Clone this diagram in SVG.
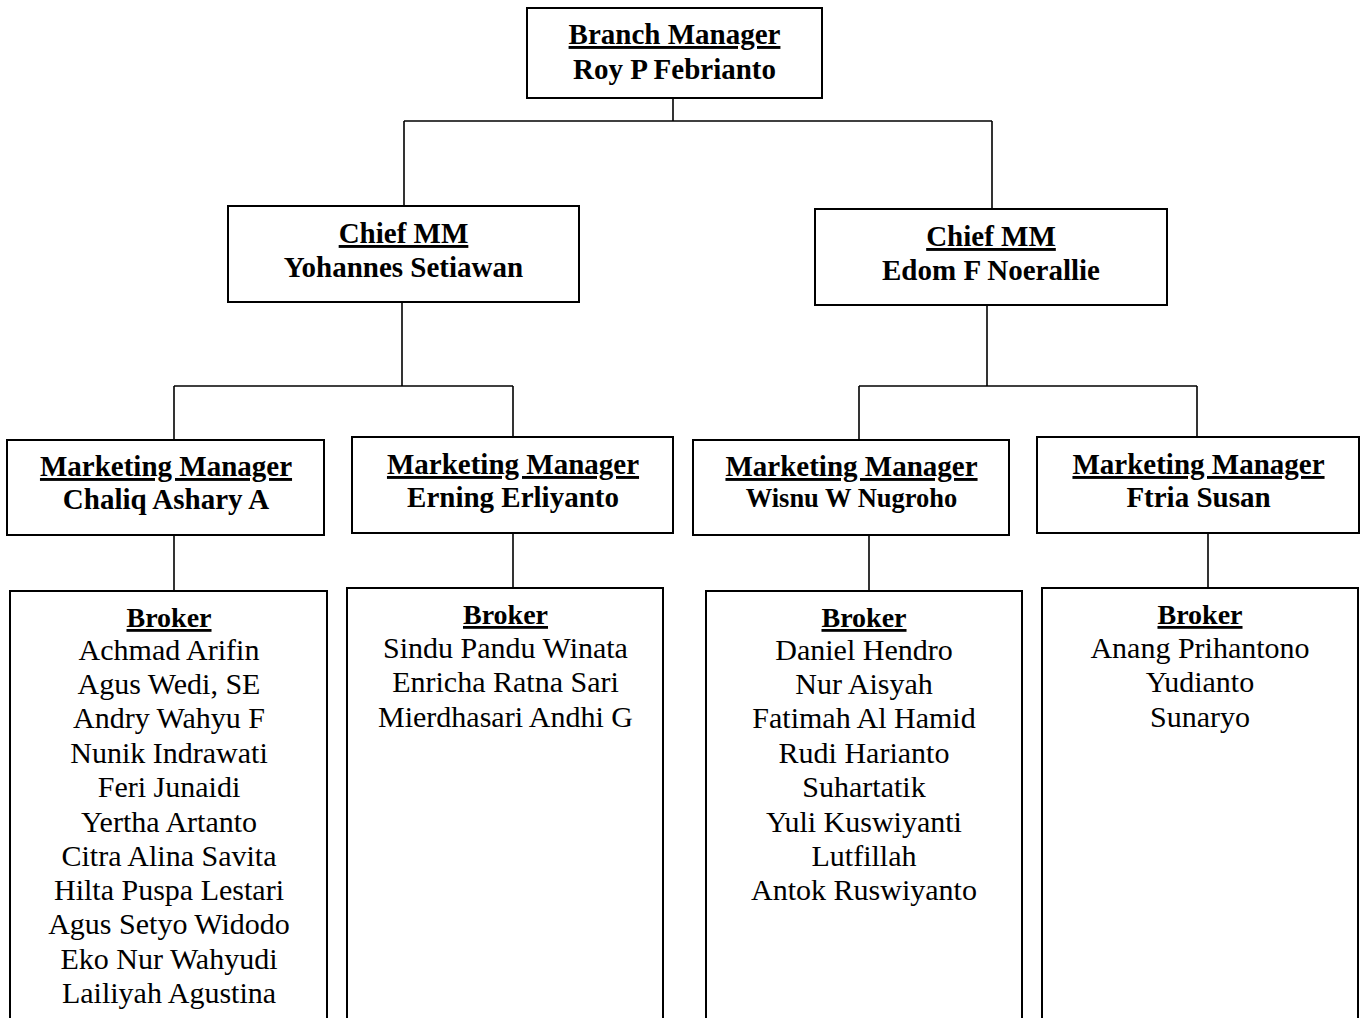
<svg xmlns="http://www.w3.org/2000/svg" width="1362" height="1018" viewBox="0 0 1362 1018">
<style>
.box{fill:#fff;stroke:#000;stroke-width:2}
.conn line{stroke:#000;stroke-width:1.6}
text{font-family:"Liberation Serif","Times New Roman",serif;fill:#000;text-anchor:middle}
.t{font-weight:bold;font-size:29px}
.u{text-decoration:underline}
.s{font-size:26.5px}
.bk{font-weight:bold;font-size:28px;text-decoration:underline}
.n{font-size:30px}
</style>
<rect width="1362" height="1018" fill="#fff"/>
<g id="connectors" class="conn">
<line x1="673" y1="98" x2="673" y2="121"/>
<line x1="404" y1="121" x2="992" y2="121"/>
<line x1="404" y1="121" x2="404" y2="206"/>
<line x1="992" y1="121" x2="992" y2="209"/>
<line x1="402" y1="302" x2="402" y2="386"/>
<line x1="174" y1="386" x2="513" y2="386"/>
<line x1="174" y1="386" x2="174" y2="440"/>
<line x1="513" y1="386" x2="513" y2="437"/>
<line x1="987" y1="305" x2="987" y2="386"/>
<line x1="859" y1="386" x2="1197" y2="386"/>
<line x1="859" y1="386" x2="859" y2="440"/>
<line x1="1197" y1="386" x2="1197" y2="437"/>
<line x1="174" y1="535" x2="174" y2="591"/>
<line x1="513" y1="533" x2="513" y2="588"/>
<line x1="869" y1="535" x2="869" y2="591"/>
<line x1="1208" y1="533" x2="1208" y2="588"/>
</g>
<g id="branch-manager">
<rect class="box" x="527" y="8" width="295" height="90"/>
<text class="t u" x="674.5" y="44">Branch Manager</text>
<text class="t" x="674.5" y="79">Roy P Febrianto</text>
</g>
<g id="chief-left">
<rect class="box" x="228" y="206" width="351" height="96"/>
<text class="t u" x="403.5" y="243">Chief MM</text>
<text class="t" x="403.5" y="277">Yohannes Setiawan</text>
</g>
<g id="chief-right">
<rect class="box" x="815" y="209" width="352" height="96"/>
<text class="t u" x="991" y="246">Chief MM</text>
<text class="t" x="991" y="280">Edom F Noerallie</text>
</g>
<g id="mm1">
<rect class="box" x="7" y="440" width="317" height="95"/>
<text class="t u" x="166" y="476">Marketing Manager</text>
<text class="t" x="166" y="509">Chaliq Ashary A</text>
</g>
<g id="mm2">
<rect class="box" x="352" y="437" width="321" height="96"/>
<text class="t u" x="513" y="474">Marketing Manager</text>
<text class="t" x="513" y="507">Erning Erliyanto</text>
</g>
<g id="mm3">
<rect class="box" x="693" y="440" width="316" height="95"/>
<text class="t u" x="851.5" y="476">Marketing Manager</text>
<text class="t s" x="851.5" y="507">Wisnu W Nugroho</text>
</g>
<g id="mm4">
<rect class="box" x="1037" y="437" width="322" height="96"/>
<text class="t u" x="1198.5" y="474">Marketing Manager</text>
<text class="t" x="1198.5" y="507">Ftria Susan</text>
</g>
<g id="broker1">
<rect class="box" x="10" y="591" width="317" height="450"/>
<text class="bk" x="169" y="627">Broker</text>
<text class="n" x="169" y="660">Achmad Arifin</text>
<text class="n" x="169" y="694">Agus Wedi, SE</text>
<text class="n" x="169" y="728">Andry Wahyu F</text>
<text class="n" x="169" y="763">Nunik Indrawati</text>
<text class="n" x="169" y="797">Feri Junaidi</text>
<text class="n" x="169" y="832">Yertha Artanto</text>
<text class="n" x="169" y="866">Citra Alina Savita</text>
<text class="n" x="169" y="900">Hilta Puspa Lestari</text>
<text class="n" x="169" y="934">Agus Setyo Widodo</text>
<text class="n" x="169" y="969">Eko Nur Wahyudi</text>
<text class="n" x="169" y="1003">Lailiyah Agustina</text>
</g>
<g id="broker2">
<rect class="box" x="347" y="588" width="316" height="450"/>
<text class="bk" x="505.5" y="624">Broker</text>
<text class="n" x="505.5" y="658">Sindu Pandu Winata</text>
<text class="n" x="505.5" y="692">Enricha Ratna Sari</text>
<text class="n" x="505.5" y="727">Mierdhasari Andhi G</text>
</g>
<g id="broker3">
<rect class="box" x="706" y="591" width="316" height="450"/>
<text class="bk" x="864" y="627">Broker</text>
<text class="n" x="864" y="660">Daniel Hendro</text>
<text class="n" x="864" y="694">Nur Aisyah</text>
<text class="n" x="864" y="728">Fatimah Al Hamid</text>
<text class="n" x="864" y="763">Rudi Harianto</text>
<text class="n" x="864" y="797">Suhartatik</text>
<text class="n" x="864" y="832">Yuli Kuswiyanti</text>
<text class="n" x="864" y="866">Lutfillah</text>
<text class="n" x="864" y="900">Antok Ruswiyanto</text>
</g>
<g id="broker4">
<rect class="box" x="1042" y="588" width="316" height="450"/>
<text class="bk" x="1200" y="624">Broker</text>
<text class="n" x="1200" y="658">Anang Prihantono</text>
<text class="n" x="1200" y="692">Yudianto</text>
<text class="n" x="1200" y="727">Sunaryo</text>
</g>
</svg>
